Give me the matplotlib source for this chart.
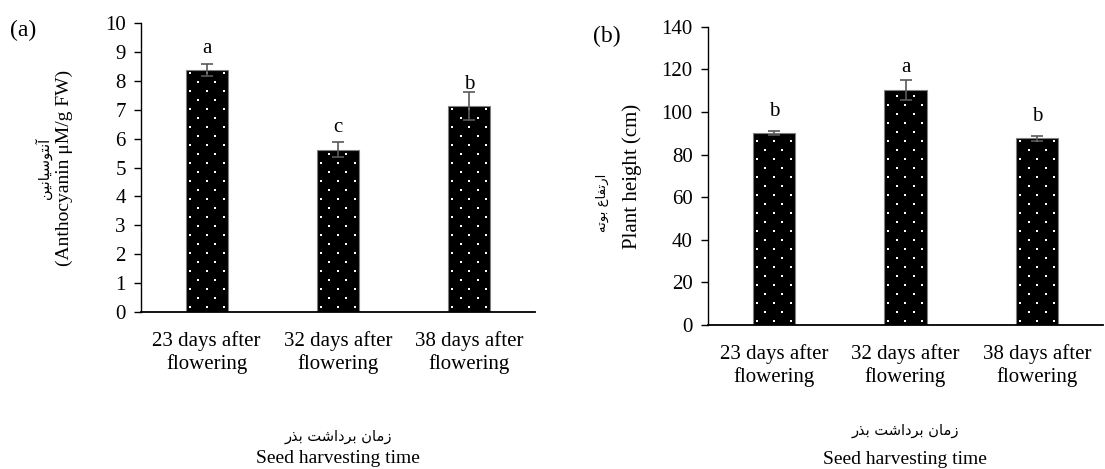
import matplotlib.pyplot as plt
import numpy as np
from matplotlib.transforms import IdentityTransform

plt.rcParams['font.family'] = ['Liberation Serif', 'DejaVu Sans']

categories = ['23 days after\nflowering', '32 days after\nflowering', '38 days after\nflowering']

anthocyanin = [8.38, 5.62, 7.12]
anthocyanin_se = [0.21, 0.26, 0.49]
anthocyanin_groups = ['a', 'c', 'b']

plant_height = [90.0, 110.3, 87.6]
plant_height_se = [1.0, 4.8, 1.2]
plant_height_groups = ['b', 'a', 'b']

fa_anthocyanin = 'آنتوسیانین'
fa_height = 'ارتفاع بوته'
fa_harvest = 'زمان برداشت بذر'

# presentation forms: isolated, final, initial, medial
FORMS = {
    'ا': (0xFE8D, 0xFE8E), 'آ': (0xFE81, 0xFE82),
    'د': (0xFEA9, 0xFEAA), 'ذ': (0xFEAB, 0xFEAC),
    'ر': (0xFEAD, 0xFEAE), 'ز': (0xFEAF, 0xFEB0),
    'و': (0xFEED, 0xFEEE),
    'ب': (0xFE8F, 0xFE90, 0xFE91, 0xFE92),
    'ت': (0xFE95, 0xFE96, 0xFE97, 0xFE98),
    'س': (0xFEB1, 0xFEB2, 0xFEB3, 0xFEB4),
    'ش': (0xFEB5, 0xFEB6, 0xFEB7, 0xFEB8),
    'ع': (0xFEC9, 0xFECA, 0xFECB, 0xFECC),
    'ف': (0xFED1, 0xFED2, 0xFED3, 0xFED4),
    'م': (0xFEE1, 0xFEE2, 0xFEE3, 0xFEE4),
    'ن': (0xFEE5, 0xFEE6, 0xFEE7, 0xFEE8),
    'ه': (0xFEE9, 0xFEEA, 0xFEEB, 0xFEEC),
    'ی': (0xFBFC, 0xFBFD, 0xFEF3, 0xFEF4),
}


def shape_fa(text):
    # matplotlib does no Arabic shaping, so pick joined forms and reverse
    out = []
    for i, ch in enumerate(text):
        if ch not in FORMS:
            out.append(ch)
            continue
        prev = text[i - 1] if i > 0 else ''
        nxt = text[i + 1] if i + 1 < len(text) else ''
        forms = FORMS[ch]
        join_prev = prev in FORMS and len(FORMS[prev]) == 4
        join_next = nxt in FORMS and len(forms) == 4
        if join_prev and join_next:
            out.append(chr(forms[3]))
        elif join_prev:
            out.append(chr(forms[1]))
        elif join_next:
            out.append(chr(forms[2]))
        else:
            out.append(chr(forms[0]))
    return ''.join(reversed(out))


def dot_fill(ax, bar, dx=17.0, dy=9.0):
    # staggered white dot texture, clipped to the bar
    (x0, y0), (x1, y1) = ax.transData.transform(
        [(bar.get_x(), 0), (bar.get_x() + bar.get_width(), bar.get_height())])
    rows = np.arange(y0 + dy / 2, y1, dy)
    px, py = [], []
    for i, y in enumerate(rows):
        xs = np.arange(x0 - dx, x1 + dx, dx) + (dx / 2 if i % 2 else 0) + 4
        px.extend(xs)
        py.extend([y] * len(xs))
    sc = ax.scatter(px, py, s=3.5, marker='s', color='white', linewidths=0,
                    transform=IdentityTransform(), zorder=2.5)
    sc.set_clip_path(bar)


def draw_panel(ax, values, errors, groups, ymax, step):
    x = np.arange(len(categories))
    ax.set_xlim(-0.5, len(categories) - 0.5)
    ax.set_ylim(0, ymax)
    bars = ax.bar(x, values, width=0.32, color='black', edgecolor='#808080',
                  linewidth=0.8, zorder=2)
    for bar in bars:
        dot_fill(ax, bar)
    ax.errorbar(x, values, yerr=errors, fmt='none', ecolor='#595959',
                elinewidth=1.2, capsize=4.5, capthick=1.2, zorder=4)
    for xi, v, g in zip(x, values, groups):
        ax.annotate(g, (xi, v), xytext=(0, 9), textcoords='offset points',
                    ha='center', va='bottom', fontsize=15)
    ax.set_yticks(np.arange(0, ymax + step, step))
    ax.set_xticks(x, categories)
    ax.spines['top'].set_visible(False)
    ax.spines['right'].set_visible(False)
    ax.spines['left'].set_linewidth(1.0)
    ax.spines['bottom'].set_linewidth(1.3)
    ax.tick_params(axis='y', direction='out', length=5, width=1, labelsize=15, pad=6)
    ax.tick_params(axis='x', length=0, labelsize=15, pad=14)


W, H = 1105, 469
fig = plt.figure(figsize=(W / 100, H / 100), dpi=100)

ax1 = fig.add_axes([141 / W, 1 - 311.7 / H, 394 / W, 288.4 / H])
draw_panel(ax1, anthocyanin, anthocyanin_se, anthocyanin_groups, 10, 1)

ax2 = fig.add_axes([708 / W, 1 - 325 / H, 395 / W, 298.3 / H])
draw_panel(ax2, plant_height, plant_height_se, plant_height_groups, 140, 20)

fa_font = dict(family=['DejaVu Sans'], fontsize=10.5)

# panel tags
fig.text(23 / W, 1 - 30 / H, '(a)', fontsize=17, ha='center', va='center')
fig.text(607 / W, 1 - 36 / H, '(b)', fontsize=17, ha='center', va='center')

# y labels
fig.text(43 / W, 1 - 168 / H, shape_fa(fa_anthocyanin), rotation=90,
         ha='center', va='center', **fa_font)
fig.text(64 / W, 1 - 168 / H, '(Anthocyanin μM/g FW)', rotation=90,
         ha='center', va='center', fontsize=14)
fig.text(602 / W, 1 - 203 / H, shape_fa(fa_height), rotation=90,
         ha='center', va='center', family=['DejaVu Sans'], fontsize=9.5)
fig.text(632 / W, 1 - 176 / H, 'Plant height (cm)', rotation=90,
         ha='center', va='center', fontsize=15)

# x labels
fig.text(338 / W, 1 - 437 / H, shape_fa(fa_harvest), ha='center', va='center', **fa_font)
fig.text(338 / W, 1 - 458 / H, 'Seed harvesting time', ha='center', va='center', fontsize=14)
fig.text(905 / W, 1 - 431 / H, shape_fa(fa_harvest), ha='center', va='center', **fa_font)
fig.text(905 / W, 1 - 459 / H, 'Seed harvesting time', ha='center', va='center', fontsize=14)

fig.savefig('out.png', dpi=100)
